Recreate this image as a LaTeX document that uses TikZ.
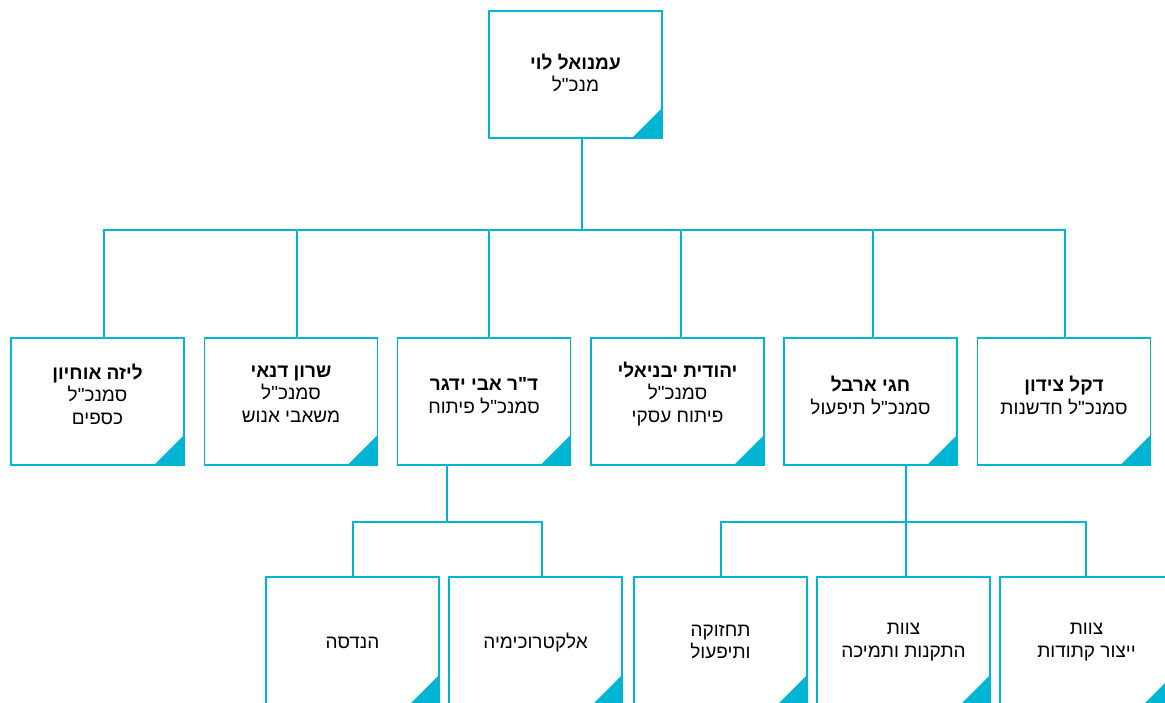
\documentclass[tikz,border=0pt]{standalone}
\usepackage{fontspec}
\TeXXeTstate=1
\newfontfamily\heb[Script=Hebrew]{Liberation Sans}
\definecolor{cy}{RGB}{0,180,212}
\newcommand\hl[1]{\beginR #1\endR}
\begin{document}
\begin{tikzpicture}[x=1pt,y=-1pt,
 box/.style={draw=cy, line width=1.6pt, minimum width=173pt, minimum height=127pt, inner sep=0pt, fill=white,
   path picture={\fill[cy] (path picture bounding box.south east) -- ++(-30pt,0pt) -- ++(30pt,30pt) -- cycle;}},
 lbl/.style={align=center, font=\heb\fontsize{19}{22.5}\selectfont, text=black, inner sep=0pt},
 conn/.style={draw=cy, line width=1.6pt}]
\useasboundingbox[fill=white] (0,0) rectangle (1165,702);
% boxes
\node[box] (top) at (575.5,74.5) {};
\node[box] (m1) at (97.5,401.5) {};
\node[box] (m2) at (291,401.5) {};
\node[box] (m3) at (484,401.5) {};
\node[box] (m4) at (677.5,401.5) {};
\node[box] (m5) at (870.5,401.5) {};
\node[box] (m6) at (1064,401.5) {};
\node[box, minimum height=128pt] (bA) at (352.5,641) {};
\node[box, minimum height=128pt] (bB) at (535.5,641) {};
\node[box, minimum height=128pt] (bC) at (720.5,641) {};
\node[box, minimum height=128pt] (bD) at (903.5,641) {};
\node[box, minimum height=128pt] (bE) at (1086.5,641) {};
% texts
\node[lbl] (ttop) at (575.5,73) {\hl{\textbf{עמנואל לוי}}\\\hl{מנכ"ל}};
\node[lbl] (t1) at (97.5,394) {\hl{\textbf{ליזה אוחיון}}\\\hl{סמנכ"ל}\\\hl{כספים}};
\node[lbl] (t2) at (291,394) {\hl{\textbf{שרון דנאי}}\\\hl{סמנכ"ל}\\\hl{משאבי אנוש}};
\node[lbl] (t3) at (484,395.5) {\hl{\textbf{ד"ר אבי ידגר}}\\\hl{סמנכ"ל פיתוח}};
\node[lbl] (t4) at (677.5,394) {\hl{\textbf{יהודית יבניאלי}}\\\hl{סמנכ"ל}\\\hl{פיתוח עסקי}};
\node[lbl] (t5) at (870.5,395.5) {\hl{\textbf{חגי ארבל}}\\\hl{סמנכ"ל תיפעול}};
\node[lbl] (t6) at (1064,395.5) {\hl{\textbf{דקל צידון}}\\\hl{סמנכ"ל חדשנות}};
\node[lbl] (tA) at (352.5,643) {\hl{הנדסה}};
\node[lbl] (tB) at (535.5,643) {\hl{אלקטרוכימיה}};
\node[lbl] (tC) at (720.5,642) {\hl{תחזוקה}\\\hl{ותיפעול}};
\node[lbl] (tD) at (903.5,642) {\hl{צוות}\\\hl{התקנות ותמיכה}};
\node[lbl] (tE) at (1086.5,642) {\hl{צוות}\\\hl{ייצור קתודות}};
% connectors
\coordinate (bus) at (582,230);
\coordinate (busL) at (447,522);
\coordinate (busR) at (906,522);
\draw[conn] ([xshift=6.5pt]top.south) -- (bus);
\draw[conn] (bus) -| ([xshift=6.5pt]m1.north);
\draw[conn] (bus) -| ([xshift=6pt]m2.north);
\draw[conn] (bus) -| ([xshift=5pt]m3.north);
\draw[conn] (bus) -| ([xshift=3.5pt]m4.north);
\draw[conn] (bus) -| ([xshift=2.5pt]m5.north);
\draw[conn] (bus) -| ([xshift=1pt]m6.north);
\draw[conn] ([xshift=-37pt]m3.south) -- (busL);
\draw[conn] (busL) -| ([xshift=0.5pt]bA.north);
\draw[conn] (busL) -| ([xshift=6.5pt]bB.north);
\draw[conn] ([xshift=35.5pt]m5.south) -- (busR);
\draw[conn] (busR) -| ([xshift=0.5pt]bC.north);
\draw[conn] (busR) -| ([xshift=2.5pt]bD.north);
\draw[conn] (busR) -| ([xshift=-0.5pt]bE.north);
\end{tikzpicture}
\end{document}
